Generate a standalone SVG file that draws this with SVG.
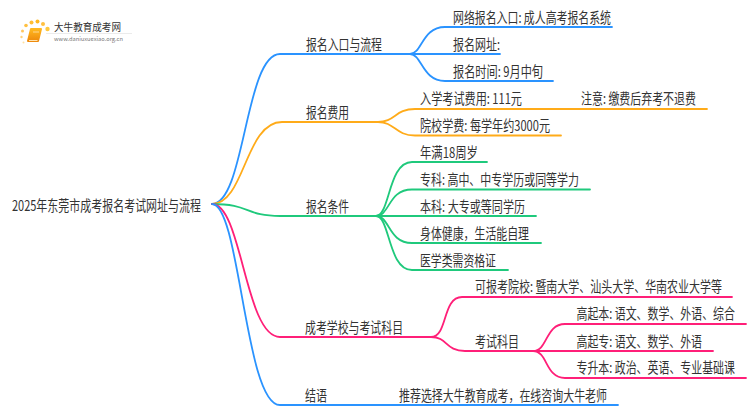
<svg xmlns="http://www.w3.org/2000/svg" width="750" height="410" viewBox="0 0 750 410">
<style>
text{font-family:"Noto Sans CJK SC","Noto Sans",sans-serif;font-size:14.5px;fill:#333}
.c{fill:none;stroke-width:1.800;stroke-linecap:round}
.b{stroke:#2a93ff}.o{stroke:#ffab19}.g{stroke:#1fc97c}.p{stroke:#ff1f78}
</style>
<defs><linearGradient id="bk" x1="0" y1="0" x2="0" y2="1"><stop offset="0" stop-color="#ffb81f"/><stop offset="1" stop-color="#ee8a0c"/></linearGradient></defs>
<rect width="750" height="410" fill="#fff"/>
<g id="connectors">
<path class="c b" d="M212 204C245 204 245 54 280 54H410"/>
<path class="c o" d="M212 204C245 204 245 122 282 122H378"/>
<path class="c g" d="M212 204C250 204 245 216 280 216H376"/>
<path class="c p" d="M212 204C242 204 245 337 280 337H431"/>
<path class="c b" d="M212 204C240 204 245 405 280 405H618"/>
<path class="c b" d="M410 54C422 54 422 27 445 27H612"/>
<path class="c b" d="M410 54H500"/>
<path class="c b" d="M410 54C422 54 422 81 445 81H553"/>
<path class="c o" d="M378 122C395 122 395 109 415 109H707"/>
<path class="c o" d="M378 122C395 122 395 135.500 415 135.500H561"/>
<path class="c g" d="M376 216C390 216 388 162 412 162H487"/>
<path class="c g" d="M376 216C390 216 388 189.500 412 189.500H590"/>
<path class="c g" d="M376 216H536"/>
<path class="c g" d="M376 216C390 216 388 243 412 243H541"/>
<path class="c g" d="M376 216C390 216 388 270 412 270H508"/>
<path class="c p" d="M431 337C448 337 442 297 462 297H732"/>
<path class="c p" d="M431 337C448 337 445 351 465 351H533"/>
<path class="c p" d="M533 351C548 351 545 324 565 324H746"/>
<path class="c p" d="M533 351H713"/>
<path class="c p" d="M533 351C548 351 545 378 565 378H746"/>
</g>
<g id="logo">
<circle cx="22.500" cy="31" r="1.500" fill="#ffc65c"/><circle cx="26" cy="25.500" r="1.800" fill="#ffc040"/>
<circle cx="31.500" cy="22.500" r="2" fill="#ffbe35"/><circle cx="37.500" cy="21.500" r="2" fill="#ffb820"/>
<circle cx="43" cy="24" r="2" fill="#ffc040"/><circle cx="47.500" cy="29" r="2.200" fill="#ffc83f"/>
<circle cx="21.500" cy="37" r="1.200" fill="#ffd27a"/><circle cx="23.500" cy="42.500" r="1" fill="#ffe0a0"/>
<path d="M31 29H41L38 41H28Z" fill="url(#bk)" stroke="url(#bk)" stroke-width="2" stroke-linejoin="round"/>
<path d="M29 40.500H37.500" stroke="#ffe3b0" stroke-width="1"/><path d="M33 32H39" stroke="#ffe3b0" stroke-width="0.800"/>
<text x="54" y="31" style="font-size:10.500px" textLength="67" lengthAdjust="spacingAndGlyphs">大牛教育成考网</text>
<text x="54" y="41" style="font-size:5.500px;fill:#777" textLength="69" lengthAdjust="spacingAndGlyphs">www.daniuxuexiao.org.cn</text>
<path d="M46 33.500H132" stroke="#e6e6e6" stroke-width="0.800"/>
</g>
<g id="root"><text transform="matrix(.75 0 0 1 12 211)" textLength="252" lengthAdjust="spacingAndGlyphs">2025年东莞市成考报名考试网址与流程</text></g>
<g id="n1"><text transform="matrix(.75 0 0 1 306 49.500)" textLength="101.300" lengthAdjust="spacingAndGlyphs">报名入口与流程</text></g>
<g id="n1a"><text transform="matrix(.75 0 0 1 453 22.500)" textLength="210.700" lengthAdjust="spacingAndGlyphs">网络报名入口: 成人高考报名系统</text></g>
<g id="n1b"><text transform="matrix(.75 0 0 1 453 49.500)" textLength="62.700" lengthAdjust="spacingAndGlyphs">报名网址:</text></g>
<g id="n1c"><text transform="matrix(.75 0 0 1 453 76.500)" textLength="120" lengthAdjust="spacingAndGlyphs">报名时间: 9月中旬</text></g>
<g id="n2"><text transform="matrix(.75 0 0 1 306 117.500)" textLength="57.300" lengthAdjust="spacingAndGlyphs">报名费用</text></g>
<g id="n2a"><text transform="matrix(.75 0 0 1 420 103.500)" textLength="136" lengthAdjust="spacingAndGlyphs">入学考试费用: 111元</text></g>
<g id="n2a1"><text transform="matrix(.75 0 0 1 581 103.500)" textLength="153.300" lengthAdjust="spacingAndGlyphs">注意: 缴费后弃考不退费</text></g>
<g id="n2b"><text transform="matrix(.75 0 0 1 420 130.500)" textLength="173.300" lengthAdjust="spacingAndGlyphs">院校学费: 每学年约3000元</text></g>
<g id="n3"><text transform="matrix(.75 0 0 1 306 211.500)" textLength="57.300" lengthAdjust="spacingAndGlyphs">报名条件</text></g>
<g id="n3a"><text transform="matrix(.75 0 0 1 420 157.500)" textLength="77.300" lengthAdjust="spacingAndGlyphs">年满18周岁</text></g>
<g id="n3b"><text transform="matrix(.75 0 0 1 420 184.500)" textLength="212" lengthAdjust="spacingAndGlyphs">专科: 高中、中专学历或同等学力</text></g>
<g id="n3c"><text transform="matrix(.75 0 0 1 420 211.500)" textLength="140" lengthAdjust="spacingAndGlyphs">本科: 大专或等同学历</text></g>
<g id="n3d"><text transform="matrix(.75 0 0 1 420 238.500)" textLength="145.300" lengthAdjust="spacingAndGlyphs">身体健康，生活能自理</text></g>
<g id="n3e"><text transform="matrix(.75 0 0 1 420 265.500)" textLength="101.300" lengthAdjust="spacingAndGlyphs">医学类需资格证</text></g>
<g id="n4"><text transform="matrix(.75 0 0 1 305 332.500)" textLength="130.700" lengthAdjust="spacingAndGlyphs">成考学校与考试科目</text></g>
<g id="n4a"><text transform="matrix(.75 0 0 1 475 292)" textLength="329.300" lengthAdjust="spacingAndGlyphs">可报考院校: 暨南大学、汕头大学、华南农业大学等</text></g>
<g id="n4b"><text transform="matrix(.75 0 0 1 475 346.500)" textLength="58.700" lengthAdjust="spacingAndGlyphs">考试科目</text></g>
<g id="n4b1"><text transform="matrix(.75 0 0 1 576.500 319)" textLength="211.300" lengthAdjust="spacingAndGlyphs">高起本: 语文、数学、外语、综合</text></g>
<g id="n4b2"><text transform="matrix(.75 0 0 1 576.500 346.500)" textLength="167.300" lengthAdjust="spacingAndGlyphs">高起专: 语文、数学、外语</text></g>
<g id="n4b3"><text transform="matrix(.75 0 0 1 576.500 373)" textLength="211.300" lengthAdjust="spacingAndGlyphs">专升本: 政治、英语、专业基础课</text></g>
<g id="n5"><text transform="matrix(.75 0 0 1 305 400.500)" textLength="29.300" lengthAdjust="spacingAndGlyphs">结语</text></g>
<g id="n5a"><text transform="matrix(.75 0 0 1 399 400.500)" textLength="277.300" lengthAdjust="spacingAndGlyphs">推荐选择大牛教育成考，在线咨询大牛老师</text></g>
</svg>
